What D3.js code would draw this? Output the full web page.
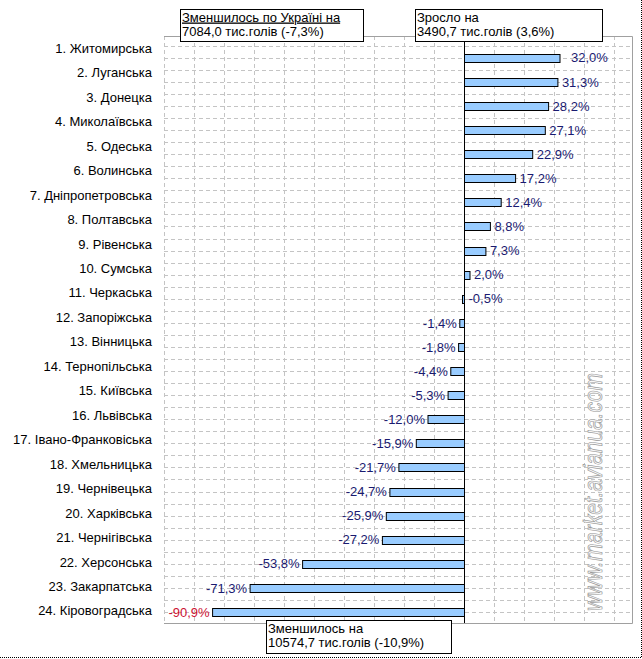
<!DOCTYPE html>
<html>
<head>
<meta charset="utf-8">
<script src="https://cdn.jsdelivr.net/npm/d3@7"></script>
<style>
  body { margin: 0; background: #fff; }
  text { font-family: "Liberation Sans", Arial, sans-serif; }
</style>
</head>
<body>
<div class="canvas"></div>
<script>
const dims = {width: 642, height: 659};

// regions, in chart order
const regions = ['1. Житомирська', '2. Луганська', '3. Донецка', '4. Миколаївська', '5. Одеська',
  '6. Волинська', '7. Дніпропетровська', '8. Полтавська', '9. Рівенська', '10. Сумська',
  '11. Черкаська', '12. Запоріжська', '13. Вінницька', '14. Тернопільська', '15. Київська',
  '16. Львівська', '17. Івано-Франковіська', '18. Хмельницька', '19. Чернівецька', '20. Харківська',
  '21. Чернігівська', '22. Херсонська', '23. Закарпатська', '24. Кіровоградська'];

// change in %, as labelled
const values = [32.0, 31.3, 28.2, 27.1, 22.9, 17.2, 12.4, 8.8, 7.3, 2.0,
  -0.5, -1.4, -1.8, -4.4, -5.3, -12.0, -15.9, -21.7, -24.7, -25.9,
  -27.2, -53.8, -71.3, -90.9];

// the last bar is drawn shorter than its label in the original
const lastBarShown = -83.8;

const xTicks = [-100, -90, -80, -70, -60, -50, -40, -30, -20, -10, 0, 10, 20, 30, 40, 50];

const topLeftNote = ['Зменшилось по Україні на', '7084,0 тис.голів (-7,3%)'];
const topRightNote = ['Зросло на', '3490,7 тис.голів (3,6%)'];
const bottomNote = ['Зменшилось на', '10574,7 тис.голів (-10,9%)'];
const watermark = 'www.market.avianua.com';

const svg = d3.select('.canvas')
.append('svg')
.attr('width', dims.width)
.attr('height', dims.height);

const plot = {left: 164, right: 632, top: 36, bottom: 623};

//scales
const x = d3.scaleLinear()
.domain([-100, 56])
.range([plot.left, plot.right]);

// labels sit on the full plot height
const yLabel = d3.scaleBand()
.domain(regions)
.range([plot.top, plot.bottom]);

// bars sit on their own, slightly shifted, positions
const yBar = d3.scalePoint()
.domain(regions)
.range([57.8, 612]);

const half = yBar.step() / 2;
const fmt = v => v.toFixed(1).replace('.', ',') + '%';

//gridlines
const grid = svg.append('g');

grid.selectAll('.vgrid')
.data(xTicks)
.enter()
.append('line')
.attr('x1', d => Math.round(x(d)) + 0.5)
.attr('x2', d => Math.round(x(d)) + 0.5)
.attr('y1', plot.top)
.attr('y2', plot.bottom)
.attr('stroke', '#c4c4c4')
.attr('stroke-dasharray', '4,3');

const hLines = [];
regions.forEach(r => {
    hLines.push(yBar(r) - half, yBar(r));
});
hLines.push(yBar(regions[regions.length - 1]) + half);

grid.selectAll('.hgrid')
.data(hLines.filter(d => d < plot.bottom))
.enter()
.append('line')
.attr('x1', plot.left)
.attr('x2', plot.right)
.attr('y1', d => Math.round(d) + 0.5)
.attr('y2', d => Math.round(d) + 0.5)
.attr('stroke', '#c4c4c4')
.attr('stroke-dasharray', '4,3');

//plot border (left side is only a gridline)
svg.append('path')
.attr('d', `M${plot.left},${plot.top + 0.5}H${plot.right + 0.5}V${plot.bottom + 0.5}H${plot.left}`)
.attr('stroke', '#a0a0a0')
.attr('fill', 'none');

//watermark
svg.append('text')
.attr('transform', `translate(602, 492) rotate(-90)`)
.attr('text-anchor', 'middle')
.attr('textLength', 238)
.attr('lengthAdjust', 'spacingAndGlyphs')
.attr('fill', '#f8f8f8')
.attr('stroke', '#999')
.attr('stroke-width', 0.7)
.style('font-size', '25px')
.style('font-style', 'italic')
.text(watermark);

//bars
const x0 = Math.round(x(0)) + 0.5;
const shown = (d, i) => i === values.length - 1 ? lastBarShown : d;

svg.append('g')
.selectAll('rect')
.data(values)
.enter()
.append('rect')
.attr('x', (d, i) => Math.min(x(shown(d, i)), x0))
.attr('width', (d, i) => Math.abs(x(shown(d, i)) - x0))
.attr('y', (d, i) => Math.round(yBar(regions[i]) - 4) + 0.5)
.attr('height', 8)
.attr('fill', '#99ccff')
.attr('stroke', '#000')
.attr('stroke-width', 1);

//zero axis
svg.append('line')
.attr('x1', x0)
.attr('x2', x0)
.attr('y1', plot.top)
.attr('y2', plot.bottom)
.attr('stroke', '#000');

//value labels
svg.append('g')
.selectAll('text')
.data(values)
.enter()
.append('text')
.attr('x', (d, i) => {
    const end = x(shown(d, i));
    if (d > -1) return Math.max(end, x0) + (i === 0 ? 11 : 4);
    return end - 3;
})
.attr('y', (d, i) => yBar(regions[i]))
.attr('dy', '0.36em')
.attr('text-anchor', d => d > -1 ? 'start' : 'end')
.attr('fill', (d, i) => i === values.length - 1 ? '#cc1133' : '#1a1a70')
.style('font-size', '13px')
.text(d => fmt(d));

//category labels
svg.append('g')
.selectAll('text')
.data(regions)
.enter()
.append('text')
.attr('x', 152)
.attr('y', d => yLabel(d) + yLabel.bandwidth() / 2)
.attr('dy', '0.36em')
.attr('text-anchor', 'end')
.attr('fill', '#000')
.style('font-size', '13px')
.text(d => d);

//note boxes
const note = (lines, bx, by, bw, bh, underline) => {
    const g = svg.append('g');
    g.append('rect')
    .attr('x', bx + 0.5)
    .attr('y', by + 0.5)
    .attr('width', bw)
    .attr('height', bh)
    .attr('fill', '#fff')
    .attr('stroke', '#000');
    lines.forEach((t, k) => {
        g.append('text')
        .attr('x', bx + 2)
        .attr('y', by + 12.5 + k * 14.5)
        .style('font-size', '13px')
        .style('text-decoration', underline && k === 0 ? 'underline' : 'none')
        .text(t);
    });
};

note(topLeftNote, 180, 9, 183, 32, true);
note(topRightNote, 415, 9, 187, 32, false);
note(bottomNote, 266, 620, 185, 33, false);

//outer dotted frame
svg.append('path')
.attr('d', 'M641.5,0V657.5H0')
.attr('fill', 'none')
.attr('stroke', '#000')
.attr('stroke-dasharray', '1,1');
</script>
</body>
</html>
